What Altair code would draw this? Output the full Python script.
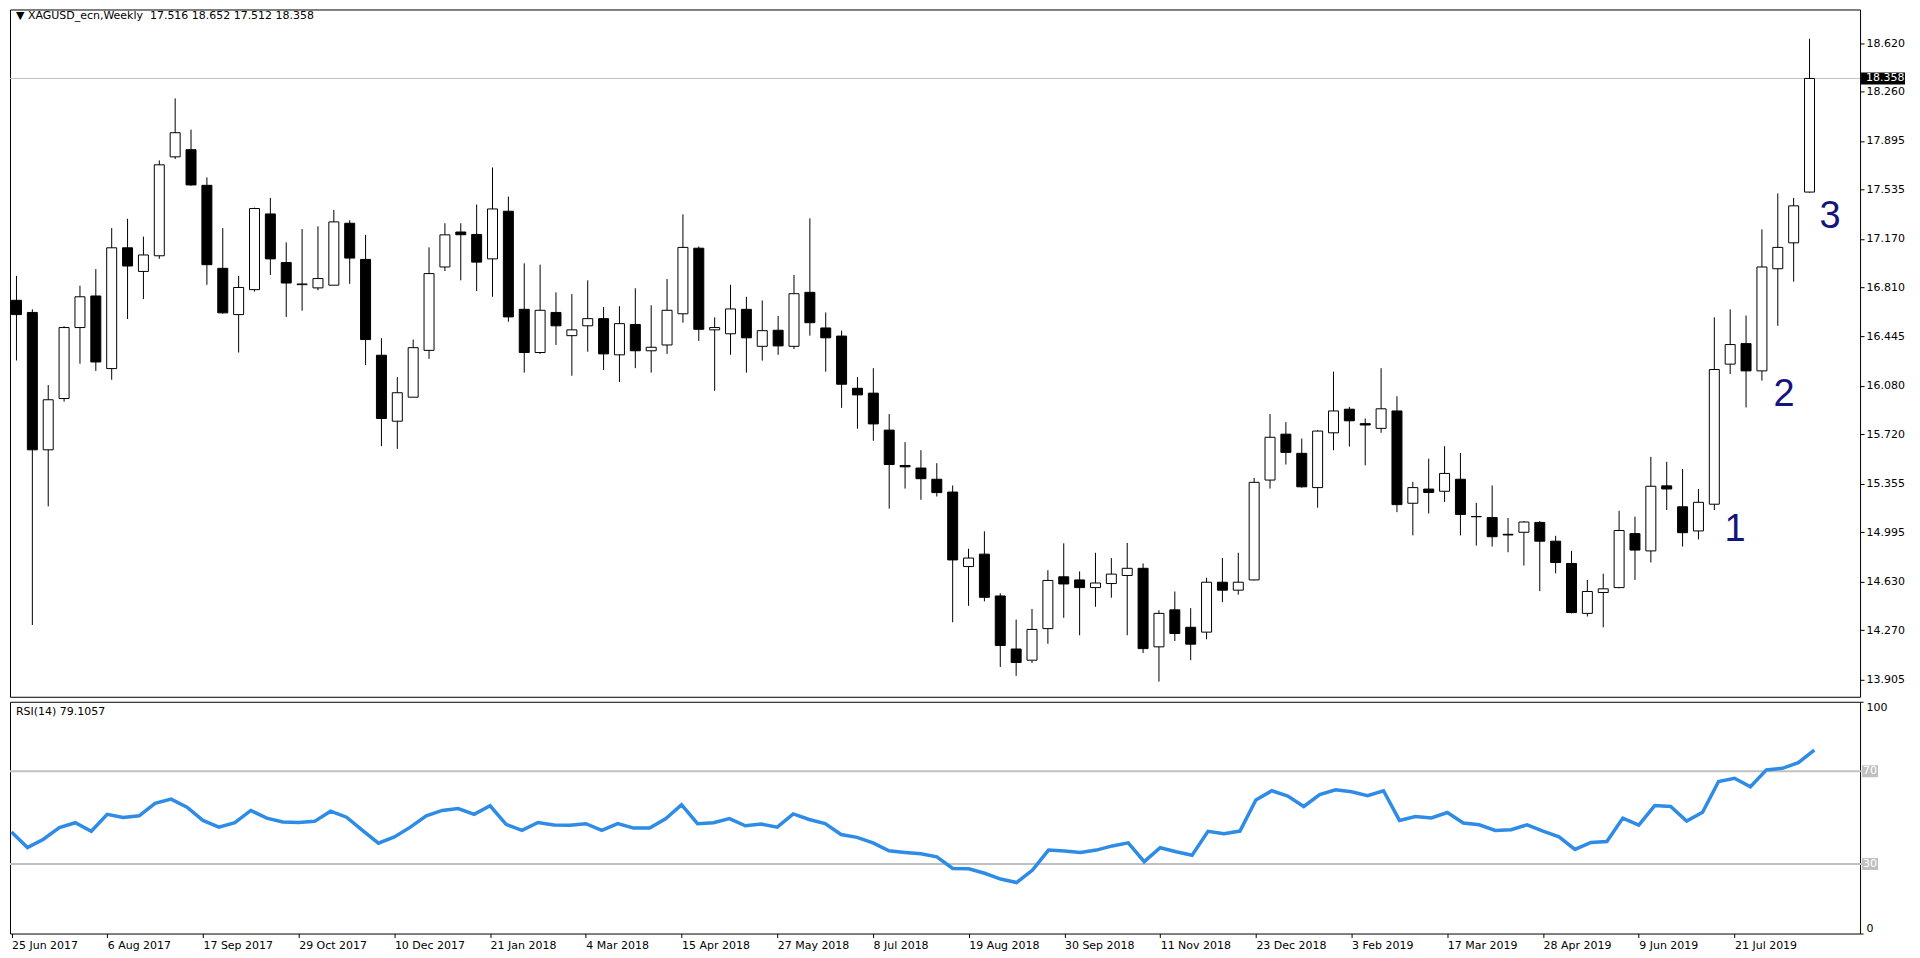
import json
import altair as alt
import pandas as pd

# ---------------- data ----------------
opens = [16.714, 16.624, 15.606, 15.986, 16.512, 16.746, 16.208, 17.103, 16.928, 17.044,
         17.777, 17.830, 17.566, 16.951, 16.608, 16.793, 17.354, 16.994, 16.830, 16.806,
         16.826, 17.285, 17.017, 16.307, 15.818, 15.996, 16.343, 16.961, 17.220, 17.202,
         17.021, 17.374, 16.647, 16.327, 16.624, 16.452, 16.525, 16.578, 16.310, 16.535,
         16.340, 16.383, 16.614, 17.100, 16.495, 16.466, 16.647, 16.373, 16.492, 16.373,
         16.773, 16.509, 16.449, 16.062, 16.026, 15.752, 15.490, 15.471, 15.388, 15.293,
         14.741, 14.833, 14.523, 14.130, 14.047, 14.281, 14.665, 14.642, 14.585, 14.615,
         14.675, 14.728, 14.146, 14.420, 14.291, 14.255, 14.625, 14.566, 14.642, 15.382,
         15.722, 15.580, 15.326, 15.732, 15.907, 15.800, 15.765, 15.894, 15.210, 15.315,
         15.299, 15.388, 15.112, 15.104, 14.980, 14.995, 15.068, 14.929, 14.764, 14.394,
         14.549, 14.585, 14.985, 14.857, 15.339, 15.184, 15.005, 15.203, 16.241, 16.393,
         16.191, 16.948, 17.140, 17.516]
highs = [16.895, 16.647, 16.086, 16.522, 16.822, 16.945, 17.249, 17.318, 17.186, 17.751,
         18.210, 17.979, 17.625, 17.249, 16.895, 17.401, 17.473, 17.143, 17.242, 17.262,
         17.384, 17.308, 17.199, 16.433, 16.145, 16.423, 17.106, 17.285, 17.285, 17.424,
         17.698, 17.483, 16.988, 16.978, 16.773, 16.760, 16.862, 16.664, 16.670, 16.803,
         16.677, 16.872, 17.351, 17.113, 16.588, 16.829, 16.740, 16.713, 16.598, 16.902,
         17.321, 16.624, 16.489, 16.145, 16.211, 15.871, 15.663, 15.603, 15.507, 15.342,
         14.873, 15.002, 14.543, 14.348, 14.427, 14.714, 14.913, 14.705, 14.843, 14.804,
         14.916, 14.764, 14.417, 14.556, 14.433, 14.658, 14.804, 14.843, 15.398, 15.871,
         15.811, 15.689, 15.752, 16.185, 15.924, 15.838, 16.211, 16.003, 15.369, 15.540,
         15.633, 15.583, 15.213, 15.342, 15.101, 15.078, 15.078, 14.969, 14.857, 14.642,
         14.688, 15.154, 15.111, 15.554, 15.517, 15.464, 15.316, 16.588, 16.647, 16.601,
         17.239, 17.506, 17.473, 18.652]
lows = [16.268, 14.308, 15.187, 15.963, 16.244, 16.191, 16.125, 16.575, 16.723, 17.021,
        17.761, 17.562, 16.829, 16.615, 16.327, 16.779, 16.902, 16.591, 16.637, 16.789,
        16.826, 16.836, 16.234, 15.633, 15.613, 15.996, 16.280, 16.931, 16.862, 16.783,
        16.740, 16.555, 16.178, 16.317, 16.383, 16.155, 16.333, 16.198, 16.109, 16.211,
        16.178, 16.317, 16.548, 16.413, 16.043, 16.310, 16.178, 16.267, 16.310, 16.353,
        16.452, 16.185, 15.917, 15.762, 15.673, 15.170, 15.319, 15.236, 15.260, 14.328,
        14.450, 14.483, 13.997, 13.931, 14.027, 14.169, 14.361, 14.232, 14.443, 14.510,
        14.232, 14.100, 13.888, 14.189, 14.047, 14.202, 14.477, 14.533, 14.638, 15.319,
        15.497, 15.326, 15.177, 15.603, 15.630, 15.491, 15.732, 15.144, 14.972, 15.134,
        15.220, 14.972, 14.896, 14.889, 14.847, 14.748, 14.559, 14.691, 14.394, 14.371,
        14.291, 14.580, 14.642, 14.771, 15.160, 14.889, 14.942, 15.160, 16.168, 15.920,
        16.119, 16.525, 16.852, 17.512]
closes = [16.608, 15.606, 15.977, 16.512, 16.740, 16.257, 17.103, 16.968, 17.050, 17.718,
          17.956, 17.569, 16.978, 16.621, 16.809, 17.394, 17.021, 16.842, 16.835, 16.875,
          17.295, 17.027, 16.423, 15.838, 16.029, 16.363, 16.912, 17.199, 17.200, 16.997,
          17.391, 16.591, 16.327, 16.640, 16.525, 16.495, 16.578, 16.317, 16.541, 16.340,
          16.366, 16.640, 17.106, 16.499, 16.512, 16.650, 16.436, 16.489, 16.376, 16.763,
          16.548, 16.436, 16.092, 16.013, 15.798, 15.497, 15.480, 15.392, 15.289, 14.790,
          14.804, 14.513, 14.156, 14.030, 14.275, 14.638, 14.612, 14.585, 14.619, 14.685,
          14.728, 14.133, 14.394, 14.245, 14.166, 14.625, 14.566, 14.625, 15.365, 15.699,
          15.587, 15.332, 15.745, 15.894, 15.821, 15.790, 15.910, 15.200, 15.326, 15.290,
          15.431, 15.127, 15.110, 14.962, 14.975, 15.071, 14.929, 14.771, 14.400, 14.556,
          14.576, 15.008, 14.863, 15.336, 15.316, 14.992, 15.217, 16.201, 16.386, 16.191,
          16.961, 17.106, 17.414, 18.358]
rsi = [43.8, 37.1, 40.7, 45.7, 47.8, 44.1, 51.4, 50.1, 50.8, 56.2,
       58.0, 54.5, 48.8, 45.9, 47.8, 53.1, 49.8, 48.1, 47.9, 48.4,
       52.8, 50.2, 44.5, 39.0, 41.7, 45.9, 50.8, 53.1, 53.9, 51.4,
       55.1, 47.1, 44.5, 47.9, 46.8, 46.7, 47.4, 44.5, 47.4, 45.5,
       45.5, 49.5, 55.6, 47.4, 47.8, 49.6, 46.5, 47.2, 45.9, 51.6,
       49.2, 47.4, 42.7, 41.5, 39.1, 35.7, 35.0, 34.4, 33.1, 28.1,
       27.9, 26.0, 23.5, 22.0, 27.4, 36.0, 35.6, 35.0, 36.0, 37.8,
       39.1, 31.0, 37.0, 35.3, 33.8, 44.1, 43.1, 44.2, 57.6, 61.6,
       59.3, 54.8, 59.9, 62.0, 61.2, 59.5, 61.6, 48.8, 50.5, 49.9,
       52.2, 47.7, 46.9, 44.5, 44.8, 46.9, 44.2, 41.7, 36.3, 39.3,
       39.7, 49.8, 46.8, 55.2, 54.8, 48.5, 52.3, 65.6, 67.0, 63.3,
       70.6, 71.3, 73.7, 79.1057]

date_labels = ["25 Jun 2017", "6 Aug 2017", "17 Sep 2017", "29 Oct 2017", "10 Dec 2017",
               "21 Jan 2018", "4 Mar 2018", "15 Apr 2018", "27 May 2018", "8 Jul 2018",
               "19 Aug 2018", "30 Sep 2018", "11 Nov 2018", "23 Dec 2018", "3 Feb 2019",
               "17 Mar 2019", "28 Apr 2019", "9 Jun 2019", "21 Jul 2019"]
date_label_bars = [0, 6, 12, 18, 24, 30, 36, 42, 48, 54, 60, 66, 72, 78, 84, 90, 96, 102, 108]

price_ticks = [18.620, 18.260, 17.895, 17.535, 17.170, 16.810, 16.445, 16.080,
               15.720, 15.355, 14.995, 14.630, 14.270, 13.905]
rsi_ticks = [0, 100]
rsi_levels = [70, 30]

title_text = "\u25BC XAGUSD_ecn,Weekly\u00a0\u00a017.516 18.652 17.512 18.358"
rsi_text = "RSI(14) 79.1057"
wave_labels = ["1", "2", "3"]
wave_bar = [108.3, 111.4, 114.3]
wave_price = [15.01, 16.01, 17.33]

# ---------------- layout ----------------
W = 1852
H1 = 688
H2 = 232
FONT = "DejaVu Sans"

df = pd.DataFrame({"idx": list(range(len(opens))), "open": opens, "high": highs,
                   "low": lows, "close": closes, "rsi": rsi})

xscale = alt.Scale(domain=[-0.094, 115.87], nice=False, zero=False)
yscale = alt.Scale(domain=[13.776, 18.869], nice=False, zero=False)
rscale = alt.Scale(domain=[0, 100], nice=False, zero=False)

price_axis = alt.Axis(orient="right", values=price_ticks, format=".3f", title=None,
                      grid=False, domain=False, tickSize=4, tickColor="black",
                      labelPadding=2, labelFont=FONT, labelFontSize=11,
                      labelColor="black", labelOverlap=False, labelBaseline="middle")


def PY(field):
    return alt.Y(field, scale=yscale, axis=price_axis)


base = alt.Chart(df)

price_line = alt.Chart(pd.DataFrame({"p": [closes[-1]]})).mark_rule(
    color="#c0c0c0", strokeWidth=1).encode(y=PY("p:Q"))

wick = base.mark_rule(color="black", strokeWidth=1, clip=True).encode(
    x=alt.X("idx:Q", scale=xscale, axis=None),
    y=PY("low:Q"), y2="high:Q")

body = base.mark_bar(size=10, stroke="black", strokeWidth=1, clip=True).encode(
    x=alt.X("idx:Q", scale=xscale, axis=None),
    y=PY("open:Q"), y2="close:Q",
    fill=alt.condition("datum.close >= datum.open", alt.value("white"), alt.value("black")))

cur = pd.DataFrame({"p": [closes[-1]]})
cur_box = alt.Chart(cur).mark_rule(color="black", strokeWidth=12, strokeCap="butt").encode(
    x=alt.value(W + 1), x2=alt.value(W + 45), y=PY("p:Q"))
cur_txt = alt.Chart(cur).mark_text(align="left", baseline="middle", color="white",
                                   font=FONT, fontSize=11).encode(
    x=alt.value(W + 6), y=PY("p:Q"), text=alt.Text("p:Q", format=".3f"))

title_mark = alt.Chart(pd.DataFrame({"t": [title_text]})).mark_text(
    align="left", baseline="middle", font=FONT, fontSize=11, color="black").encode(
    x=alt.value(6), y=alt.value(7), text="t:N")

waves = alt.Chart(pd.DataFrame({"lab": wave_labels, "i": wave_bar, "p": wave_price})).mark_text(
    font="Liberation Sans", fontSize=38, color="#14147a", align="center",
    baseline="middle").encode(
    x=alt.X("i:Q", scale=xscale, axis=None), y=PY("p:Q"), text="lab:N")

price_panel = alt.layer(price_line, wick, body, cur_box, cur_txt, title_mark, waves).properties(
    width=W, height=H1)

# ---------------- RSI panel ----------------
label_expr = json.dumps(date_labels) + "[round(datum.value / 6)]"
x_axis = alt.Axis(values=date_label_bars, labelExpr=label_expr, title=None, grid=False,
                  domain=False, tickSize=4, tickColor="black", labelAlign="left",
                  labelBaseline="top", labelPadding=2, labelFont=FONT, labelFontSize=11,
                  labelColor="black", labelFlush=False, labelOverlap=False)
rsi_axis = alt.Axis(orient="right", values=rsi_ticks, title=None, grid=False, domain=False,
                    tickSize=3, tickColor="black", labelPadding=3, labelFont=FONT,
                    labelFontSize=11, labelColor="black", labelFlush=True,
                    labelOverlap=False)


def RY(field):
    return alt.Y(field, scale=rscale, axis=rsi_axis)


lv = pd.DataFrame({"lv": rsi_levels})
level_lines = alt.Chart(lv).mark_rule(color="#c0c0c0", strokeWidth=2).encode(
    x=alt.value(0), x2=alt.value(W + 2), y=RY("lv:Q"))
level_box = alt.Chart(lv).mark_rule(color="#c0c0c0", strokeWidth=12, strokeCap="butt").encode(
    x=alt.value(W + 2), x2=alt.value(W + 18), y=RY("lv:Q"))
level_txt = alt.Chart(lv).mark_text(align="left", baseline="middle", color="white",
                                    font=FONT, fontSize=11).encode(
    x=alt.value(W + 3), y=RY("lv:Q"), text="lv:N")

rsi_line = base.mark_line(color="#2e8be6", strokeWidth=3.5, clip=True).encode(
    x=alt.X("idx:Q", scale=xscale, axis=x_axis), y=RY("rsi:Q"))

rsi_title = alt.Chart(pd.DataFrame({"t": [rsi_text]})).mark_text(
    align="left", baseline="middle", font=FONT, fontSize=11, color="black").encode(
    x=alt.value(6), y=alt.value(10), text="t:N")

rsi_panel = alt.layer(level_lines, level_box, level_txt, rsi_line, rsi_title).properties(
    width=W, height=H2)

chart = alt.vconcat(price_panel, rsi_panel, spacing=3).properties(
    padding=0, background="white"
).configure_view(stroke="black", strokeWidth=1)

chart.save("out.html", embed_options={"renderer": "svg", "actions": False})
